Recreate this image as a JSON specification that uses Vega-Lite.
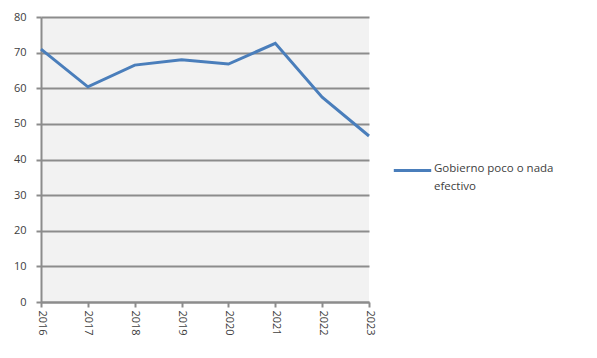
{
  "$schema": "https://vega.github.io/schema/vega-lite/v6.json",
  "width": 328,
  "height": 285,
  "autosize": "none",
  "padding": {"left": 41, "top": 17, "right": 228, "bottom": 56},
  "background": "white",
  "data": {"values": [
    {"year": "2016", "value": 71.0, "serie": "Gobierno poco o nada efectivo"},
    {"year": "2017", "value": 60.4, "serie": "Gobierno poco o nada efectivo"},
    {"year": "2018", "value": 66.5, "serie": "Gobierno poco o nada efectivo"},
    {"year": "2019", "value": 68.0, "serie": "Gobierno poco o nada efectivo"},
    {"year": "2020", "value": 66.8, "serie": "Gobierno poco o nada efectivo"},
    {"year": "2021", "value": 72.6, "serie": "Gobierno poco o nada efectivo"},
    {"year": "2022", "value": 57.5, "serie": "Gobierno poco o nada efectivo"},
    {"year": "2023", "value": 46.6, "serie": "Gobierno poco o nada efectivo"}
  ]},
  "mark": {"type": "line", "strokeWidth": 3},
  "encoding": {
    "x": {
      "field": "year", "type": "ordinal",
      "scale": {"type": "point", "padding": 0},
      "axis": {
        "title": null, "labelAngle": 90, "labelAlign": "left", "labelBaseline": "middle",
        "grid": false, "domainColor": "#8c8c8c", "domainWidth": 2,
        "tickColor": "#8c8c8c", "tickWidth": 2, "tickSize": 5,
        "labelFont": "Open Sans", "labelFontSize": 11, "labelColor": "#404040", "labelPadding": 3
      }
    },
    "y": {
      "field": "value", "type": "quantitative",
      "scale": {"domain": [0, 80], "nice": false},
      "axis": {
        "title": null, "values": [0, 10, 20, 30, 40, 50, 60, 70, 80],
        "grid": true, "gridColor": "#8c8c8c", "gridWidth": 2,
        "domainColor": "#8c8c8c", "domainWidth": 2,
        "tickColor": "#8c8c8c", "tickWidth": 2, "tickSize": 5,
        "labelFont": "Open Sans", "labelFontSize": 11, "labelColor": "#404040", "labelPadding": 10
      }
    },
    "color": {
      "field": "serie", "type": "nominal",
      "scale": {"range": ["#4a7ebb"]},
      "legend": {
        "title": null, "orient": "none", "legendX": 351, "legendY": 133,
        "symbolType": "stroke", "symbolSize": 1400, "symbolStrokeWidth": 3,
        "labelExpr": "['Gobierno poco o nada', 'efectivo']",
        "labelFont": "Open Sans", "labelFontSize": 11.5, "labelColor": "#404040",
        "labelOffset": 1, "labelBaseline": "top", "labelLimit": 300,
        "encode": {"labels": {"update": {"lineHeight": {"value": 18}, "dy": {"value": -8}}}}
      }
    }
  },
  "config": {
    "view": {"fill": "#f2f2f2", "stroke": null}
  }
}
